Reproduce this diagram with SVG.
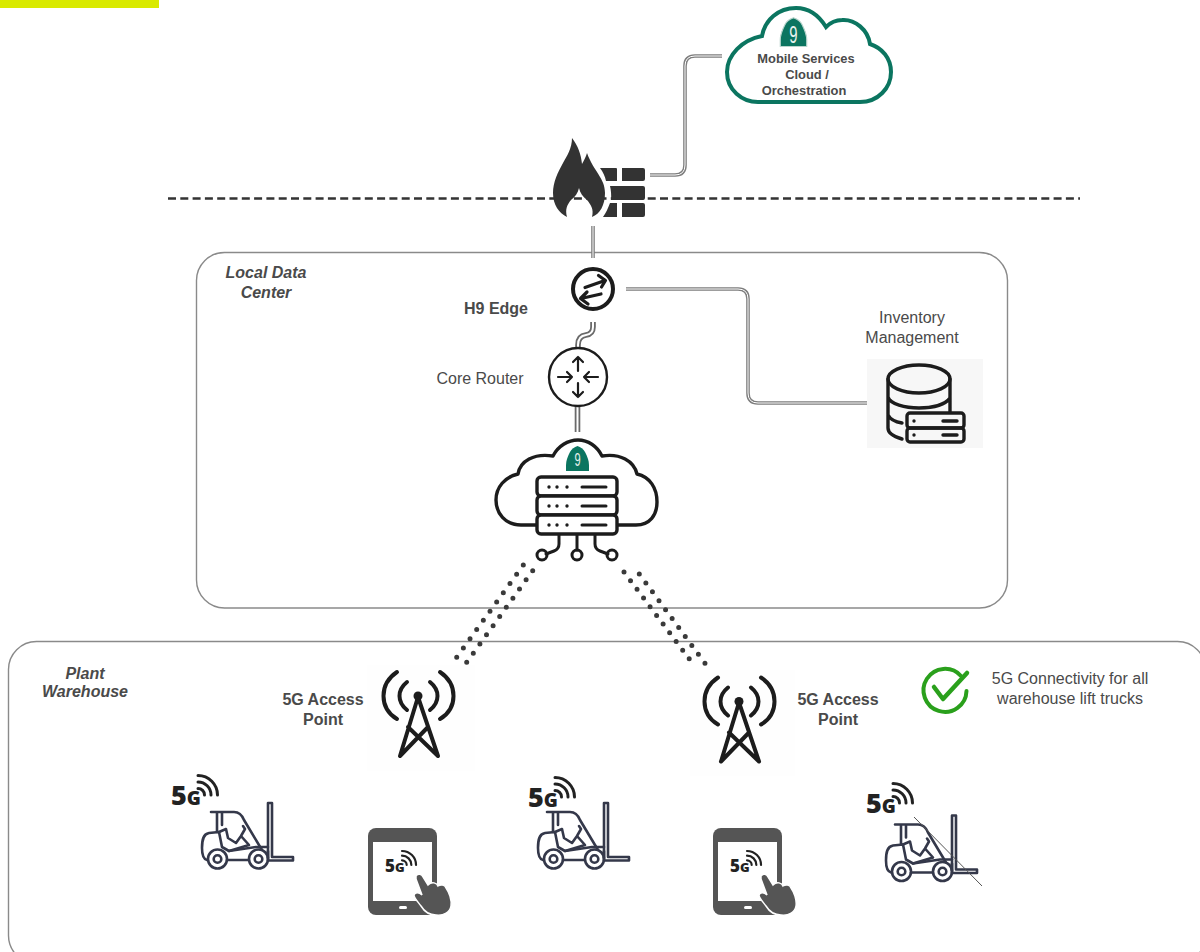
<svg xmlns="http://www.w3.org/2000/svg" width="1200" height="952" viewBox="0 0 1200 952">
<style>
text{font-family:"Liberation Sans",Arial,sans-serif;fill:#4a4a4a;text-anchor:middle}
.n{font-size:16px}
.b{font-size:16px;font-weight:bold}
.i{font-size:16px;font-weight:bold;font-style:italic}
.m{font-size:12.9px;font-weight:bold}
.five{font-family:"Open Sans","Liberation Sans",sans-serif;font-weight:800;fill:#222;text-anchor:start}
.sh{fill:#e8f2ee}
.box{fill:none;stroke:#8a8a8a;stroke-width:1.4}
.co{fill:none;stroke:#7d7d7d;stroke-width:3.6}
.ci{fill:none;stroke:#fff;stroke-width:1}
.cow{fill:none;stroke:#6a6a6a;stroke-width:5.6}
.ciw{fill:none;stroke:#fff;stroke-width:2}
.dots{fill:none;stroke:#3a3a3a;stroke-width:5;stroke-linecap:round}
.ic{fill:none;stroke:#1c1c1c;stroke-width:3.4;stroke-linecap:round;stroke-linejoin:round}
.fk{fill:none;stroke:#34384a;stroke-width:2.6;stroke-linecap:round;stroke-linejoin:round}
</style>
<defs>
<path id="shield" d="M0 -15C3 -14 6 -12 7.500 -9C9.500 -5 11.500 -1 11.500 4C11.500 6 11.500 8 11.500 10H-11.500C-11.500 8 -11.500 6 -11.500 4C-11.500 -1 -9.500 -5 -7.500 -9C-6 -12 -3 -14 0 -15Z" fill="#0b7560"/>
<g id="wifi" fill="none" stroke="#222" stroke-width="3" stroke-linecap="round">
<path d="M0 -6.500A6.500 6.500 0 0 1 6.500 0M0 -13A13 13 0 0 1 13 0M0 -19.500A19.500 19.500 0 0 1 19.500 0"/>
</g>
<g id="forklift">
<path class="fk" d="M268 803H272V857H293V860.500H268Z"/>
<path class="fk" d="M211 812H234C239 812 242 815 244 820L262 850"/>
<path class="fk" d="M217 813V832M222 813V825"/>
<path class="fk" d="M268 847H256L229 851L222 847L219 832L209 833C203 834 202 840 202 848C202 855 203 859 207 860"/>
<path class="fk" d="M219 832L226 829L228 838L236 843L241 836L245 829L243 826M241 836L249 845L229 851"/>
<path class="fk" d="M227 860H248M268 858V851"/>
<circle class="fk" cx="217.500" cy="859" r="9.500"/><circle class="fk" cx="217.500" cy="859" r="3.800"/>
<circle class="fk" cx="258.500" cy="859" r="9.500"/><circle class="fk" cx="258.500" cy="859" r="3.800"/>
</g>
<g id="tablet">
<rect x="368" y="828" width="69" height="87" rx="8" fill="#555"/>
<rect x="373" y="842" width="59" height="59" fill="#fff"/>
<rect x="399" y="906" width="8" height="3" rx="1.500" fill="#fff"/>
<path d="M416 876C418 873 422 874 423 877L428 885C432 881 437 883 438 886C441 884 445 885 446 888C449 892 452 900 451 906C450 912 444 916 436 915C429 915 424 911 421 906C418 902 414 898 414 895C415 892 419 892 422 895L416 879Z" fill="#555" stroke="#fff" stroke-width="1.500"/>
</g>
<g id="tower" fill="none" stroke="#1c1c1c" stroke-width="4" stroke-linecap="round" stroke-linejoin="round">
<circle cx="418" cy="696" r="4.500" fill="#1c1c1c" stroke="none"/>
<path d="M418 697L400 756M418 697L438 756M400 756L428 727M438 756L408 727"/>
<path d="M407 682C397 690 397 702 407 710M430 682C440 690 440 702 430 710M397 672C379 684 379 708 397 719M440 672C458 684 458 708 440 719"/>
</g>
</defs>
<rect width="1200" height="952" fill="#fff"/>
<rect id="highlight" x="0" y="0" width="159" height="8" fill="#d9ea00"/>

<g id="zone-boundaries">
<rect class="box" x="196.500" y="252.500" width="811" height="355.500" rx="28"/>
<rect class="box" x="8.500" y="641.500" width="1197" height="322" rx="28"/>
<path d="M168 198.500H1080" fill="none" stroke="#333" stroke-width="2.600" stroke-dasharray="8 4.300"/>
</g>

<g id="connectors">
<path class="co" d="M650 175H675Q685 175 685 165V66Q685 56 695 56H722"/><path class="ci" d="M650 175H675Q685 175 685 165V66Q685 56 695 56H722"/>
<path class="co" d="M593 226V258"/><path class="ci" d="M593 226V258"/>
<path class="co" d="M626 289H738Q748 289 748 299V393Q748 403 758 403H867"/><path class="ci" d="M626 289H738Q748 289 748 299V393Q748 403 758 403H867"/>
<path class="cow" d="M593 322V327Q593 334 586 335Q578 336 578 345V349"/><path class="ciw" d="M593 322V327Q593 334 586 335Q578 336 578 345V349"/>
<path class="cow" d="M577.500 405V432"/><path class="ciw" d="M577.500 405V432"/>
<path class="dots" stroke-dasharray="0 11.380" d="M523.300 565L456.700 657.300"/>
<path class="dots" stroke-dasharray="0 11.290" d="M532.700 570.700L466.700 662.300"/>
<path class="dots" stroke-dasharray="0 10.860" d="M624 572L695.700 667.500"/>
<path class="dots" stroke-dasharray="0 11.080" d="M639.300 574L705 663.300"/>
</g>

<g id="mobile-cloud">
<path d="M758 102H860C878 102 891 88 891 72C891 58 882 48 870 44C868 30 855 19 842 20C835 20 830 23 826 27C818 14 808 8 796 8C778 8 765 20 762 36C742 40 727 55 727 72C727 90 742 102 758 102Z" fill="#fff" stroke="#0b7560" stroke-width="4"/>
<use href="#shield" transform="translate(793.500 35) scale(1.150)" stroke="#b9d5cd" stroke-width="1"/>
<text class="sh" transform="translate(793.500 43) scale(.62 1)" font-size="24">9</text>
<text class="m" x="806" y="63">Mobile Services</text>
<text class="m" x="807" y="79">Cloud /</text>
<text class="m" x="804" y="95">Orchestration</text>
</g>

<g id="firewall">
<path d="M572 138C572 148 567 156 563 163C558 172 553 182 553 193C553 205 559 213 567 217C565 209 567 205 571 200C575 197 578 193 579 188C580 193 583 197 587 200C591 205 594 209 592 217C600 214 605 205 605 193C605 178 594 172 587 153C586 157 584 160 582 164C581 154 578 146 572 138Z" fill="#333"/>
<path d="M600 168H616Q617 168 617 169V181H606C605 176 603 172 600 168ZM622 168H643Q645 168 645 170V179Q645 181 643 181H622ZM610 186H643Q645 186 645 188V198Q645 200 643 200H611C611.500 195 611 190 610 186ZM610 203H617V217H603C606 213 608 208 610 203ZM622 203H643Q645 203 645 205V215Q645 217 643 217H622Z" fill="#333"/>
</g>

<g id="h9-edge">
<circle class="ic" cx="593" cy="289" r="20" style="stroke-width:4"/>
<path class="ic" style="stroke-width:3.200" d="M585 287.500L605 280.500M598.500 275.500L605.500 280.500L601.500 287M601 294L581 298.500M587 292L580.500 298.500L588 304"/>
<text class="b" x="496" y="314">H9 Edge</text>
</g>

<g id="core-router">
<circle cx="578" cy="377" r="29" fill="#fff" stroke="#1c1c1c" stroke-width="2.400"/>
<path class="ic" style="stroke-width:2.200" d="M558 377H572M567 372L572 377L567 382M598 377H584M589 372L584 377L589 382M578 357V371M573 362L578 357L583 362M578 397V383M573 392L578 397L583 392"/>
<text class="n" x="480" y="383.500">Core Router</text>
</g>

<g id="edge-cloud">
<path class="ic" d="M537 525H521C505 525 496 513 496 500C496 487 505 477 518 474C520 461 534 453 553 456C558 446 568 440 578 440C588 440 597 446 602 456C620 453 634 461 637 474C650 477 657 488 657 502C657 515 650 525 636 525H617"/>
<use href="#shield" transform="translate(577.500 461)"/>
<text class="sh" transform="translate(577.500 466) scale(.6 1)" font-size="18.500">9</text>
<rect class="ic" x="537" y="477" width="80" height="19" rx="4" style="fill:#fff"/>
<rect class="ic" x="537" y="496" width="80" height="19" rx="4" style="fill:#fff"/>
<rect class="ic" x="537" y="515" width="80" height="19" rx="4" style="fill:#fff"/>
<path d="M549 487h.01M557 487h.01M567 487h.01M549 506h.01M557 506h.01M567 506h.01M549 525h.01M557 525h.01M567 525h.01" fill="none" stroke="#1c1c1c" stroke-width="3.400" stroke-linecap="round"/>
<path d="M582 487H606M582 506H606M582 525H606" fill="none" stroke="#1c1c1c" stroke-width="3" stroke-linecap="round"/>
<path class="ic" style="stroke-width:3" d="M559 535V544Q559 549 554 551L546 554M577 535V550M595 535V544Q595 549 600 551L608 554"/>
<circle class="ic" style="stroke-width:3" cx="542" cy="555" r="5"/>
<circle class="ic" style="stroke-width:3" cx="577" cy="555" r="5"/>
<circle class="ic" style="stroke-width:3" cx="612" cy="555" r="5"/>
</g>

<g id="inventory">
<text class="n" x="912" y="323">Inventory</text>
<text class="n" x="912" y="343">Management</text>
<rect x="867" y="359" width="116" height="89" fill="#f7f7f7"/>
<ellipse class="ic" cx="919" cy="379" rx="31" ry="14"/>
<path class="ic" d="M888 379V428Q888 435 902 439M950 379V412M888 397C890 404 905 408 919 408C932 408 945 405 950 398M888 415C890 419 896 422 902 423"/>
<rect class="ic" x="907" y="413" width="57" height="15" rx="3"/>
<rect class="ic" x="907" y="428" width="57" height="14" rx="3"/>
<path class="ic" d="M914 421h.01M914 435h.01M943 421H957M943 435H957"/>
</g>

<g id="local-data-center-label">
<text class="i" x="266" y="278">Local Data</text>
<text class="i" x="266" y="298">Center</text>
</g>
<g id="plant-warehouse-label">
<text class="i" x="85" y="679">Plant</text>
<text class="i" x="85" y="697">Warehouse</text>
</g>

<g id="access-point-1">
<rect x="367" y="665" width="108" height="106" fill="#fefefe"/>
<use href="#tower"/>
<text class="b" x="323" y="705">5G Access</text>
<text class="b" x="323" y="725">Point</text>
</g>
<g id="access-point-2">
<rect x="690" y="670" width="105" height="106" fill="#fefefe"/>
<use href="#tower" transform="translate(321 5.500)"/>
<text class="b" x="838" y="705">5G Access</text>
<text class="b" x="838" y="725">Point</text>
</g>

<g id="connectivity-note">
<path d="M961 676A21.500 21.500 0 1 0 966.500 691" fill="none" stroke="#2aa01c" stroke-width="4" stroke-linecap="round"/>
<path d="M934 687L943 699L967 673" fill="none" stroke="#2aa01c" stroke-width="4.500" stroke-linecap="round" stroke-linejoin="round"/>
<text class="n" x="1070" y="684">5G Connectivity for all</text>
<text class="n" x="1070" y="704">warehouse lift trucks</text>
</g>

<g id="forklift-1">
<use href="#forklift"/>
<text class="five" x="171" y="805" font-size="27">5<tspan font-size="19">G</tspan></text>
<use href="#wifi" transform="translate(198 795)"/>
</g>
<g id="tablet-1">
<use href="#tablet"/>
<text class="five" x="385" y="872" font-size="17">5<tspan font-size="13">G</tspan></text>
<use href="#wifi" transform="translate(402 865) scale(.72)"/>
</g>
<g id="forklift-2">
<use href="#forklift" transform="translate(336 0)"/>
<text class="five" x="528" y="807" font-size="27">5<tspan font-size="19">G</tspan></text>
<use href="#wifi" transform="translate(555 797)"/>
</g>
<g id="tablet-2">
<use href="#tablet" transform="translate(345 0)"/>
<text class="five" x="730" y="872" font-size="17">5<tspan font-size="13">G</tspan></text>
<use href="#wifi" transform="translate(747 865) scale(.72)"/>
</g>
<g id="forklift-3">
<use href="#forklift" transform="translate(684 12.500)"/>
<text class="five" x="866" y="813" font-size="27">5<tspan font-size="19">G</tspan></text>
<use href="#wifi" transform="translate(893 803)"/>
<path d="M914 817L982 886" fill="none" stroke="#555" stroke-width="1"/>
</g>
</svg>
